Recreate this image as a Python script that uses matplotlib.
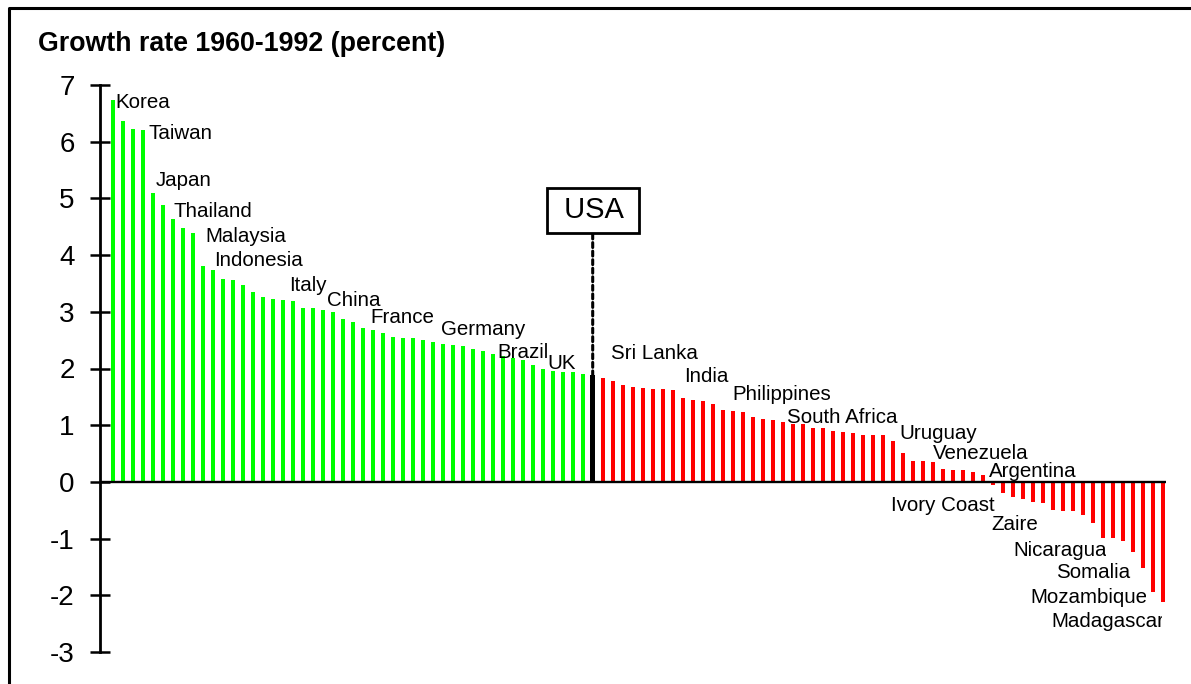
import matplotlib
matplotlib.use("Agg")
from matplotlib import pyplot as plt
from matplotlib.lines import Line2D
from matplotlib.transforms import Bbox, TransformedBbox
import numpy as np

plt.rcParams['font.family'] = ['Liberation Sans', 'DejaVu Sans']
plt.rcParams['axes.unicode_minus'] = False

# growth rates 1960-1992 (percent), sorted high to low
fast = [6.73, 6.36, 6.22, 6.20, 5.09, 4.88, 4.63, 4.48, 4.39, 3.80,
        3.73, 3.57, 3.56, 3.47, 3.35, 3.26, 3.22, 3.20, 3.19, 3.06,
        3.06, 3.03, 2.99, 2.88, 2.82, 2.72, 2.68, 2.62, 2.55, 2.53,
        2.53, 2.51, 2.46, 2.44, 2.42, 2.39, 2.34, 2.30, 2.26, 2.22,
        2.18, 2.15, 2.06, 1.99, 1.95, 1.93, 1.93, 1.90]
usa = 1.88
slow = [1.83, 1.78, 1.71, 1.67, 1.65, 1.63, 1.63, 1.62, 1.48, 1.44,
        1.42, 1.37, 1.26, 1.25, 1.23, 1.14, 1.11, 1.09, 1.05, 1.02,
        1.02, 0.95, 0.95, 0.89, 0.88, 0.86, 0.82, 0.82, 0.82, 0.72,
        0.51, 0.365, 0.365, 0.35, 0.22, 0.21, 0.21, 0.17, 0.12, -0.06,
        -0.19, -0.26, -0.30, -0.35, -0.37, -0.50, -0.51, -0.51, -0.59, -0.72,
        -0.99, -0.99, -1.04, -1.23, -1.52, -1.94, -2.12]

countries = ['Korea', 'Taiwan', 'Japan', 'Thailand', 'Malaysia', 'Indonesia',
             'Italy', 'China', 'France', 'Germany', 'Brazil', 'UK',
             'Sri Lanka', 'India', 'Philippines', 'South Africa', 'Uruguay',
             'Venezuela', 'Argentina', 'Ivory Coast', 'Zaire', 'Nicaragua',
             'Somalia', 'Mozambique', 'Madagascar']
# where each name sits (data coords, left / baseline)
label_x = [0.23, 3.56, 4.33, 6.06, 9.23, 10.16, 17.63, 21.4, 25.8, 32.83,
           38.46, 43.46, 49.8, 57.13, 62.0, 67.4, 78.66, 82.0, 87.66,
           77.83, 87.9, 90.06, 94.3, 91.73, 93.83]
label_y = [6.59, 6.04, 5.215, 4.67, 4.23, 3.81, 3.36, 3.10, 2.80, 2.59,
           2.19, 1.99, 2.16, 1.76, 1.45, 1.04, 0.765, 0.40, 0.09,
           -0.51, -0.85, -1.31, -1.70, -2.13, -2.56]
# names cut off on the right in the original
clip_right = {'Nicaragua': 99.33, 'Mozambique': 103.3, 'Madagascar': 104.96}

n_fast = len(fast)
x_fast = np.arange(n_fast)
x_usa = n_fast
x_slow = np.arange(n_fast + 1, n_fast + 1 + len(slow))

fig = plt.figure(figsize=(11.91, 6.84), dpi=100)
ax = fig.add_axes([100/1191, 32/684, 1066/1191, 567/684])

ax.bar(x_fast, fast, width=0.4, color='#00ff00', zorder=2)
ax.bar(x_slow, slow, width=0.4, color='#ff0000', zorder=2)
ax.bar([x_usa], [usa], width=0.55, color='black', zorder=2)

ax.set_xlim(-1.27, 105.33)
ax.set_ylim(-3, 7)
ax.axhline(0, color='black', lw=1.7, zorder=3)

for s in ['top', 'right', 'bottom']:
    ax.spines[s].set_visible(False)
ax.spines['left'].set_linewidth(2)
ax.set_xticks([])
ax.set_yticks(np.arange(-3, 8))
ax.tick_params(axis='y', direction='inout', length=14.4, width=1.8,
               labelsize=20, pad=11)

for name, lx, ly in zip(countries, label_x, label_y):
    t = ax.text(lx, ly, name, fontsize=14.8, ha='left', va='baseline', zorder=4)
    if name in clip_right:
        box = Bbox([[-1.27, -3], [clip_right[name], 7]])
        t.set_clip_box(TransformedBbox(box, ax.transData))
        t.set_clip_on(True)

ax.annotate(' USA ', xy=(x_usa, usa), xytext=(x_usa, 4.79),
            fontsize=21, ha='center', va='center', zorder=5,
            bbox=dict(boxstyle='square,pad=0.3', fc='white', ec='black', lw=2),
            arrowprops=dict(arrowstyle='-', lw=2.2, linestyle=(0, (1.6, 1.2)),
                            color='black', shrinkA=0, shrinkB=0))

fig.text(38/1191, 1 - 51/684, 'Growth rate 1960-1992 (percent)',
         fontsize=19.3, fontweight='bold', va='baseline', ha='left')

# frame round the picture (only top and left visible)
fig.add_artist(Line2D([8.7/1191, 8.7/1191, 1.0], [0.0, 1 - 7.8/684, 1 - 7.8/684],
                      color='black', lw=2.2, transform=fig.transFigure))

fig.savefig('out.png', dpi=100)
